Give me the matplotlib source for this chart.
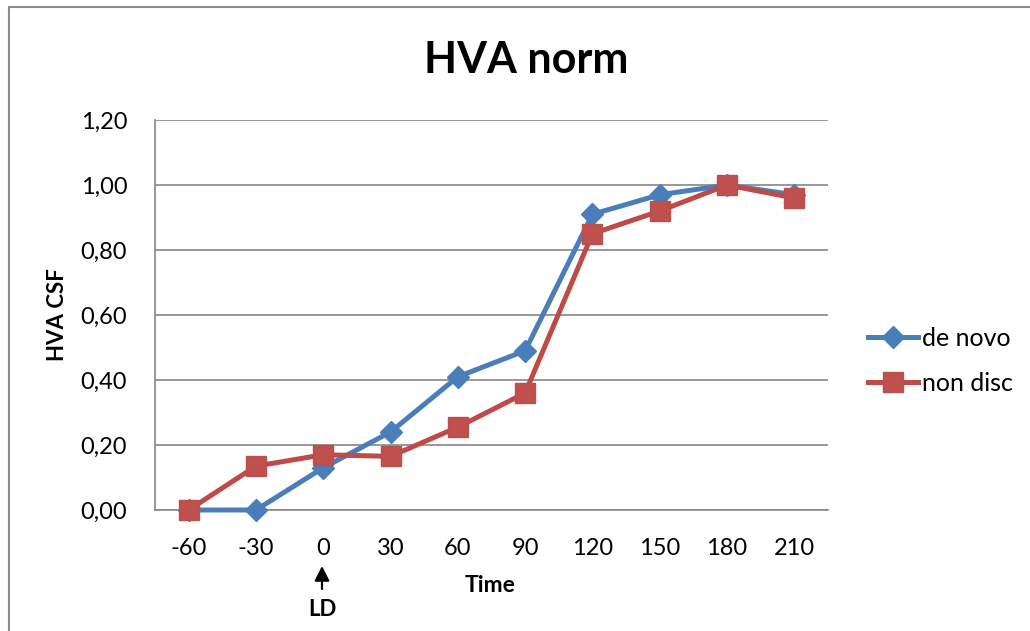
import matplotlib
matplotlib.use("Agg")
import matplotlib.pyplot as plt
from matplotlib.patches import Rectangle

categories = ["-60", "-30", "0", "30", "60", "90", "120", "150", "180", "210"]
de_novo = [0.00, 0.00, 0.13, 0.24, 0.41, 0.49, 0.91, 0.97, 1.00, 0.97]
non_disc = [0.00, 0.135, 0.17, 0.165, 0.255, 0.36, 0.85, 0.92, 1.00, 0.96]
yticks = [0.0, 0.2, 0.4, 0.6, 0.8, 1.0, 1.2]
ytick_labels = ["0,00", "0,20", "0,40", "0,60", "0,80", "1,00", "1,20"]

plt.rcParams['font.family'] = ['Lato', 'DejaVu Sans']

W, H = 1030, 631
fig = plt.figure(figsize=(W / 100, H / 100), dpi=100)
fig.patch.set_facecolor("white")

# outer chart border
fig.add_artist(Rectangle((9 / W, 1 - 1.3), 1.2, 1.3 - 7 / H, transform=fig.transFigure,
                         fill=False, edgecolor="#8c8c8c", linewidth=1.5))

ax = fig.add_axes([155 / W, 1 - 510 / H, (828 - 155) / W, (510 - 120) / H])
x = list(range(len(categories)))

blue = "#4A7EBB"
red = "#BE4B48"
ax.plot(x, de_novo, color=blue, linewidth=3.6, marker="D", markersize=11,
        markerfacecolor="#4A7EBB", markeredgecolor="#4A7EBB", label="de novo",
        zorder=3, clip_on=False)
ax.plot(x, non_disc, color=red, linewidth=3.6, marker="s", markersize=14,
        markerfacecolor="#C0504D", markeredgecolor="#B8504B", label="non disc",
        zorder=4, clip_on=False)

ax.set_xlim(-0.5, len(categories) - 0.5)
ax.set_ylim(0, 1.2)
ax.set_yticks(yticks)
ax.set_yticklabels(ytick_labels, fontsize=17)
ax.set_xticks(x)
ax.set_xticklabels(categories, fontsize=17)
ax.tick_params(axis="both", length=0)
ax.tick_params(axis="y", pad=20)
ax.tick_params(axis="x", pad=20)
ax.grid(axis="y", color="#868686", linewidth=1.2)
ax.set_axisbelow(True)
for s in ["top", "right"]:
    ax.spines[s].set_visible(False)
ax.spines["left"].set_color("#868686")
ax.spines["bottom"].set_color("#868686")
ax.spines["left"].set_linewidth(1.2)
ax.spines["bottom"].set_linewidth(1.2)

fig.text(526 / W, 1 - 60 / H, "HVA norm", fontsize=31, fontweight="bold",
         ha="center", va="center")
fig.text(58 / W, 1 - 315 / H, "HVA CSF", fontsize=16, fontweight="bold",
         rotation=90, ha="center", va="center")
fig.text(490 / W, 1 - 586 / H, "Time", fontsize=16.5, fontweight="bold",
         ha="center", va="center")
fig.text(322 / W, 1 - 610 / H, "LD", fontsize=16, fontweight="bold",
         ha="center", va="center")
fig.add_artist(matplotlib.patches.FancyArrowPatch(
    (322 / W, 1 - 589 / H), (322 / W, 1 - 566 / H), transform=fig.transFigure,
    arrowstyle="-|>,head_length=0.55,head_width=0.28", mutation_scale=16,
    shrinkA=0, shrinkB=0, color="black", linewidth=1.6))

leg = fig.legend(loc="center left", bbox_to_anchor=(868 / W, 1 - 361 / H), frameon=False,
                 fontsize=18, handlelength=2.0, handletextpad=0.15, labelspacing=0.9,
                 borderaxespad=0, borderpad=0)

fig.savefig("out.png", dpi=100)
